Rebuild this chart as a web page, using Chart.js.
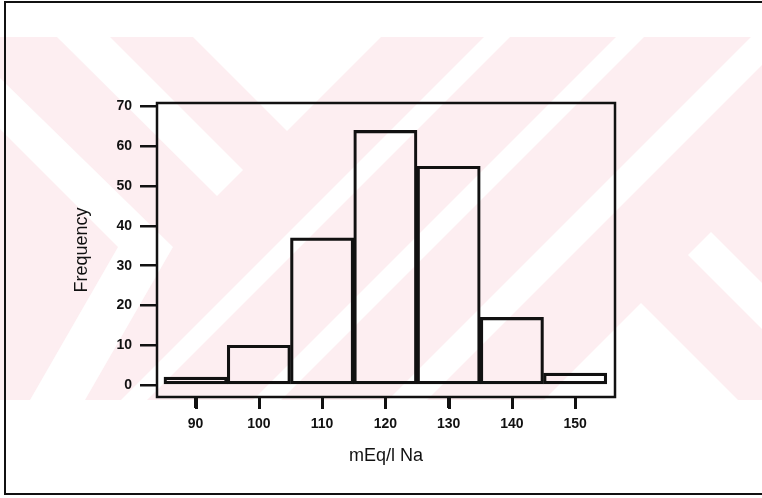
<!DOCTYPE html>
<html>
<head>
<meta charset="utf-8">
<script src="https://cdn.jsdelivr.net/npm/chart.js@4/dist/chart.umd.min.js"></script>
<style>
html,body{margin:0;padding:0;background:#fff;}
canvas{display:block;}
</style>
</head>
<body>
<canvas id="c" width="762" height="498"></canvas>
<script>
// ---- data ----
const binCenters = [90, 100, 110, 120, 130, 140, 150];
const frequencies = [2, 10, 37, 64, 55, 17, 3];
const xTickValues = [90, 100, 110, 120, 130, 140, 150];
const yTickValues = [0, 10, 20, 30, 40, 50, 60, 70];
const xTitle = 'mEq/l Na';
const yTitle = 'Frequency';

// ---- decorative scanned watermark (background only) ----
const watermarkPlugin = {
  id: 'watermark',
  beforeDraw(chart) {
    const ctx = chart.ctx;
    const W = chart.width, H = chart.height;
    ctx.save();
    ctx.fillStyle = '#ffffff';
    ctx.fillRect(0, 0, W, H);
    ctx.beginPath();
    ctx.rect(0, 37, W, 363);
    ctx.clip();
    ctx.fillStyle = '#fdeef1';
    ctx.fillRect(0, 37, W, 363);
    const shapes = [
      [[57,37],[110,37],[243,170],[217,196]],
      [[193,37],[381,37],[287,131]],
      [[0,78],[173,247],[85,400],[30,400],[118,247],[0,129]],
      [[484,37],[510,37],[147,400],[121,400]],
      [[616,37],[644,37],[281,400],[253,400]],
      [[751,37],[790,37],[427,400],[388,400]],
      [[688,255],[711,232],[762,283],[762,329]],
      [[641,303],[738,400],[544,400]]
    ];
    ctx.fillStyle = '#ffffff';
    shapes.forEach(poly => {
      ctx.beginPath();
      poly.forEach(([x, y], i) => i ? ctx.lineTo(x, y) : ctx.moveTo(x, y));
      ctx.closePath();
      ctx.fill();
    });
    ctx.restore();
    // outer page frame
    ctx.save();
    ctx.strokeStyle = '#111';
    ctx.lineWidth = 2;
    ctx.beginPath();
    ctx.moveTo(W, 2); ctx.lineTo(5, 2); ctx.lineTo(5, 494); ctx.lineTo(W, 494);
    ctx.stroke();
    ctx.restore();
  },
  afterDraw(chart) {
    const a = chart.chartArea, ctx = chart.ctx;
    ctx.save();
    ctx.strokeStyle = '#111';
    ctx.lineWidth = 2.5;
    ctx.strokeRect(a.left, a.top, a.right - a.left, a.bottom - a.top);
    // reinforce x tick marks at the scale's own tick positions
    const xs = chart.scales.x;
    ctx.fillStyle = '#111';
    xs.ticks.forEach(t => {
      const px = xs.getPixelForValue(t.value);
      ctx.fillRect(Math.round(px) - 1, a.bottom + 1, 3, 11);
    });
    ctx.restore();
  }
};

const FONT = '"Liberation Sans", Arial, Helvetica, sans-serif';

new Chart(document.getElementById('c'), {
  type: 'bar',
  data: {
    datasets: [{
      data: binCenters.map((c, i) => ({ x: c, y: frequencies[i] })),
      backgroundColor: 'rgba(0,0,0,0)',
      borderColor: '#111',
      borderWidth: 2.5,
      borderSkipped: false,
      barPercentage: 1,
      categoryPercentage: 1
    }]
  },
  options: {
    responsive: false,
    animation: false,
    events: [],
    layout: { padding: { left: 60, top: 103, right: 147, bottom: 31 } },
    plugins: { legend: { display: false }, tooltip: { enabled: false } },
    scales: {
      x: {
        type: 'linear',
        min: 83.9,
        max: 156.3,
        offset: false,
        afterBuildTicks: s => { s.ticks = xTickValues.map(v => ({ value: v })); },
        afterFit: s => { s.height = 70; },
        grid: { display: true, offset: false, drawOnChartArea: false, drawTicks: true, tickLength: 11, color: '#111', lineWidth: 2.5 },
        border: { display: false },
        ticks: { color: '#111', font: { family: FONT, size: 14, weight: 'bold' }, padding: 8, maxRotation: 0, autoSkip: false },
        title: { display: true, text: xTitle, color: '#111', font: { family: FONT, size: 18 }, padding: { top: 0, bottom: 0 } }
      },
      y: {
        type: 'linear',
        min: -3,
        max: 70.9,
        afterBuildTicks: s => { s.ticks = yTickValues.map(v => ({ value: v })); },
        afterFit: s => { s.width = 97; },
        grid: { display: true, drawOnChartArea: false, drawTicks: true, tickLength: 17, color: '#111', lineWidth: 2.5 },
        border: { display: false },
        ticks: { color: '#111', font: { family: FONT, size: 14, weight: 'bold' }, padding: 8 },
        title: { display: true, text: yTitle, color: '#111', font: { family: FONT, size: 18 }, padding: { top: 11, bottom: 0 } }
      }
    }
  },
  plugins: [watermarkPlugin]
});
</script>
</body>
</html>
